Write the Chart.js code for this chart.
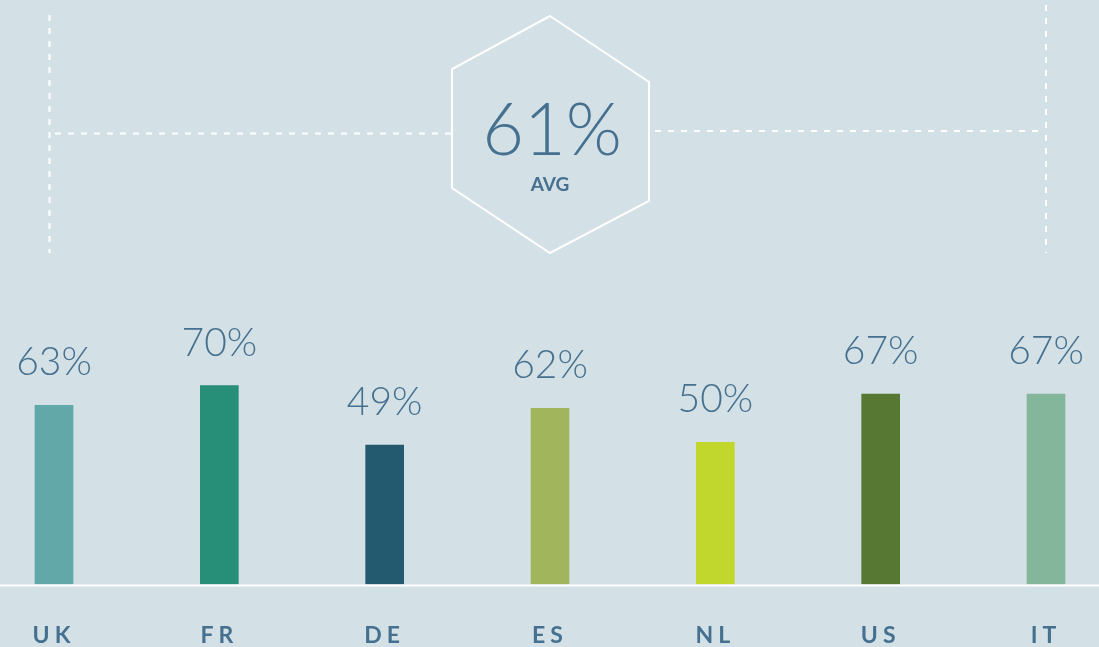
<!DOCTYPE html>
<html><head><meta charset="utf-8">
<script src="https://cdn.jsdelivr.net/npm/chart.js@4/dist/chart.umd.min.js"></script>
<style>html,body{margin:0;padding:0;background:#d3e1e6;overflow:hidden}#wrap{width:1099px;height:647px;position:relative}</style>
</head><body><div id="wrap"><canvas id="c"></canvas></div>
<script>
const categories = ['UK', 'FR', 'DE', 'ES', 'NL', 'US', 'IT'];
const values = [63, 70, 49, 62, 50, 67, 67];
const barColors = ['#62a8a8', '#278e78', '#245a70', '#a0b55c', '#c2d72e', '#567833', '#84b69c'];
const averageValue = 61;
const averageLabel = 'AVG';
const valueSuffix = '%';

const TEXT_COLOR = '#46708f';
const LABEL_FONT = 'Lato, "Open Sans", sans-serif';

const decoPlugin = {
  id: 'deco',
  beforeDraw(chart) {
    chart.ctx.letterSpacing = '5px';
  },
  afterDatasetsDraw(chart) {
    const ctx = chart.ctx;
    const xs = chart.scales.x, ys = chart.scales.y;
    ctx.save();
    ctx.letterSpacing = '0px';
    // baseline
    const y0 = ys.getPixelForValue(0);
    ctx.strokeStyle = '#ffffff';
    ctx.lineWidth = 2;
    ctx.beginPath();
    ctx.moveTo(0, y0 + 1.5); ctx.lineTo(chart.width, y0 + 1.5);
    ctx.stroke();
    // value labels
    ctx.fillStyle = TEXT_COLOR;
    ctx.font = '300 39px ' + LABEL_FONT;
    ctx.textAlign = 'center';
    ctx.textBaseline = 'alphabetic';
    const meta = chart.getDatasetMeta(0);
    meta.data.forEach((bar, i) => {
      ctx.fillText(values[i] + valueSuffix, bar.x, bar.y - 30);
    });
    // average hexagon annotation
    const xL = xs.getPixelForValue(0), xR = xs.getPixelForValue(categories.length - 1);
    const cx = (xL + xR) / 2;
    ctx.strokeStyle = '#ffffff';
    ctx.lineWidth = 2;
    ctx.beginPath();
    ctx.moveTo(cx, 16);
    ctx.lineTo(cx + 99, 82);
    ctx.lineTo(cx + 99, 201);
    ctx.lineTo(cx, 253);
    ctx.lineTo(cx - 98, 188);
    ctx.lineTo(cx - 98, 69);
    ctx.closePath();
    ctx.stroke();
    ctx.setLineDash([6, 7]);
    ctx.beginPath();
    ctx.moveTo(xL - 4.5, 15); ctx.lineTo(xL - 4.5, 253);
    ctx.moveTo(xL + 1, 133.5); ctx.lineTo(cx - 98, 133.5);
    ctx.moveTo(cx + 105, 131); ctx.lineTo(xR - 6, 131);
    ctx.moveTo(xR, 5); ctx.lineTo(xR, 253);
    ctx.stroke();
    ctx.setLineDash([]);
    ctx.fillStyle = TEXT_COLOR;
    ctx.font = '300 72px ' + LABEL_FONT;
    ctx.fillText(averageValue + valueSuffix, cx + 2, 155);
    ctx.font = 'bold 19px ' + LABEL_FONT;
    ctx.fillText(averageLabel, cx, 191);
    ctx.restore();
  }
};

new Chart(document.getElementById('c'), {
  type: 'bar',
  data: {
    labels: categories,
    datasets: [{
      data: values,
      backgroundColor: barColors,
      barThickness: 38,
      borderWidth: 0,
      clip: false
    }]
  },
  options: {
    responsive: true,
    maintainAspectRatio: false,
    animation: false,
    events: [],
    layout: { padding: { left: 54, right: 53, top: 0, bottom: -40 } },
    plugins: { legend: { display: false }, tooltip: { enabled: false } },
    scales: {
      x: {
        offset: false,
        afterFit(scale) { scale.paddingLeft = 0; scale.paddingRight = 0; },
        grid: { display: false, drawTicks: false },
        border: { display: false },
        ticks: {
          color: TEXT_COLOR,
          font: { family: LABEL_FONT, size: 23, weight: 'bold', lineHeight: 1 },
          padding: 40,
          maxRotation: 0,
          autoSkip: false
        }
      },
      y: {
        display: false,
        min: 0,
        max: 206
      }
    }
  },
  plugins: [decoPlugin]
});
</script></body></html>
